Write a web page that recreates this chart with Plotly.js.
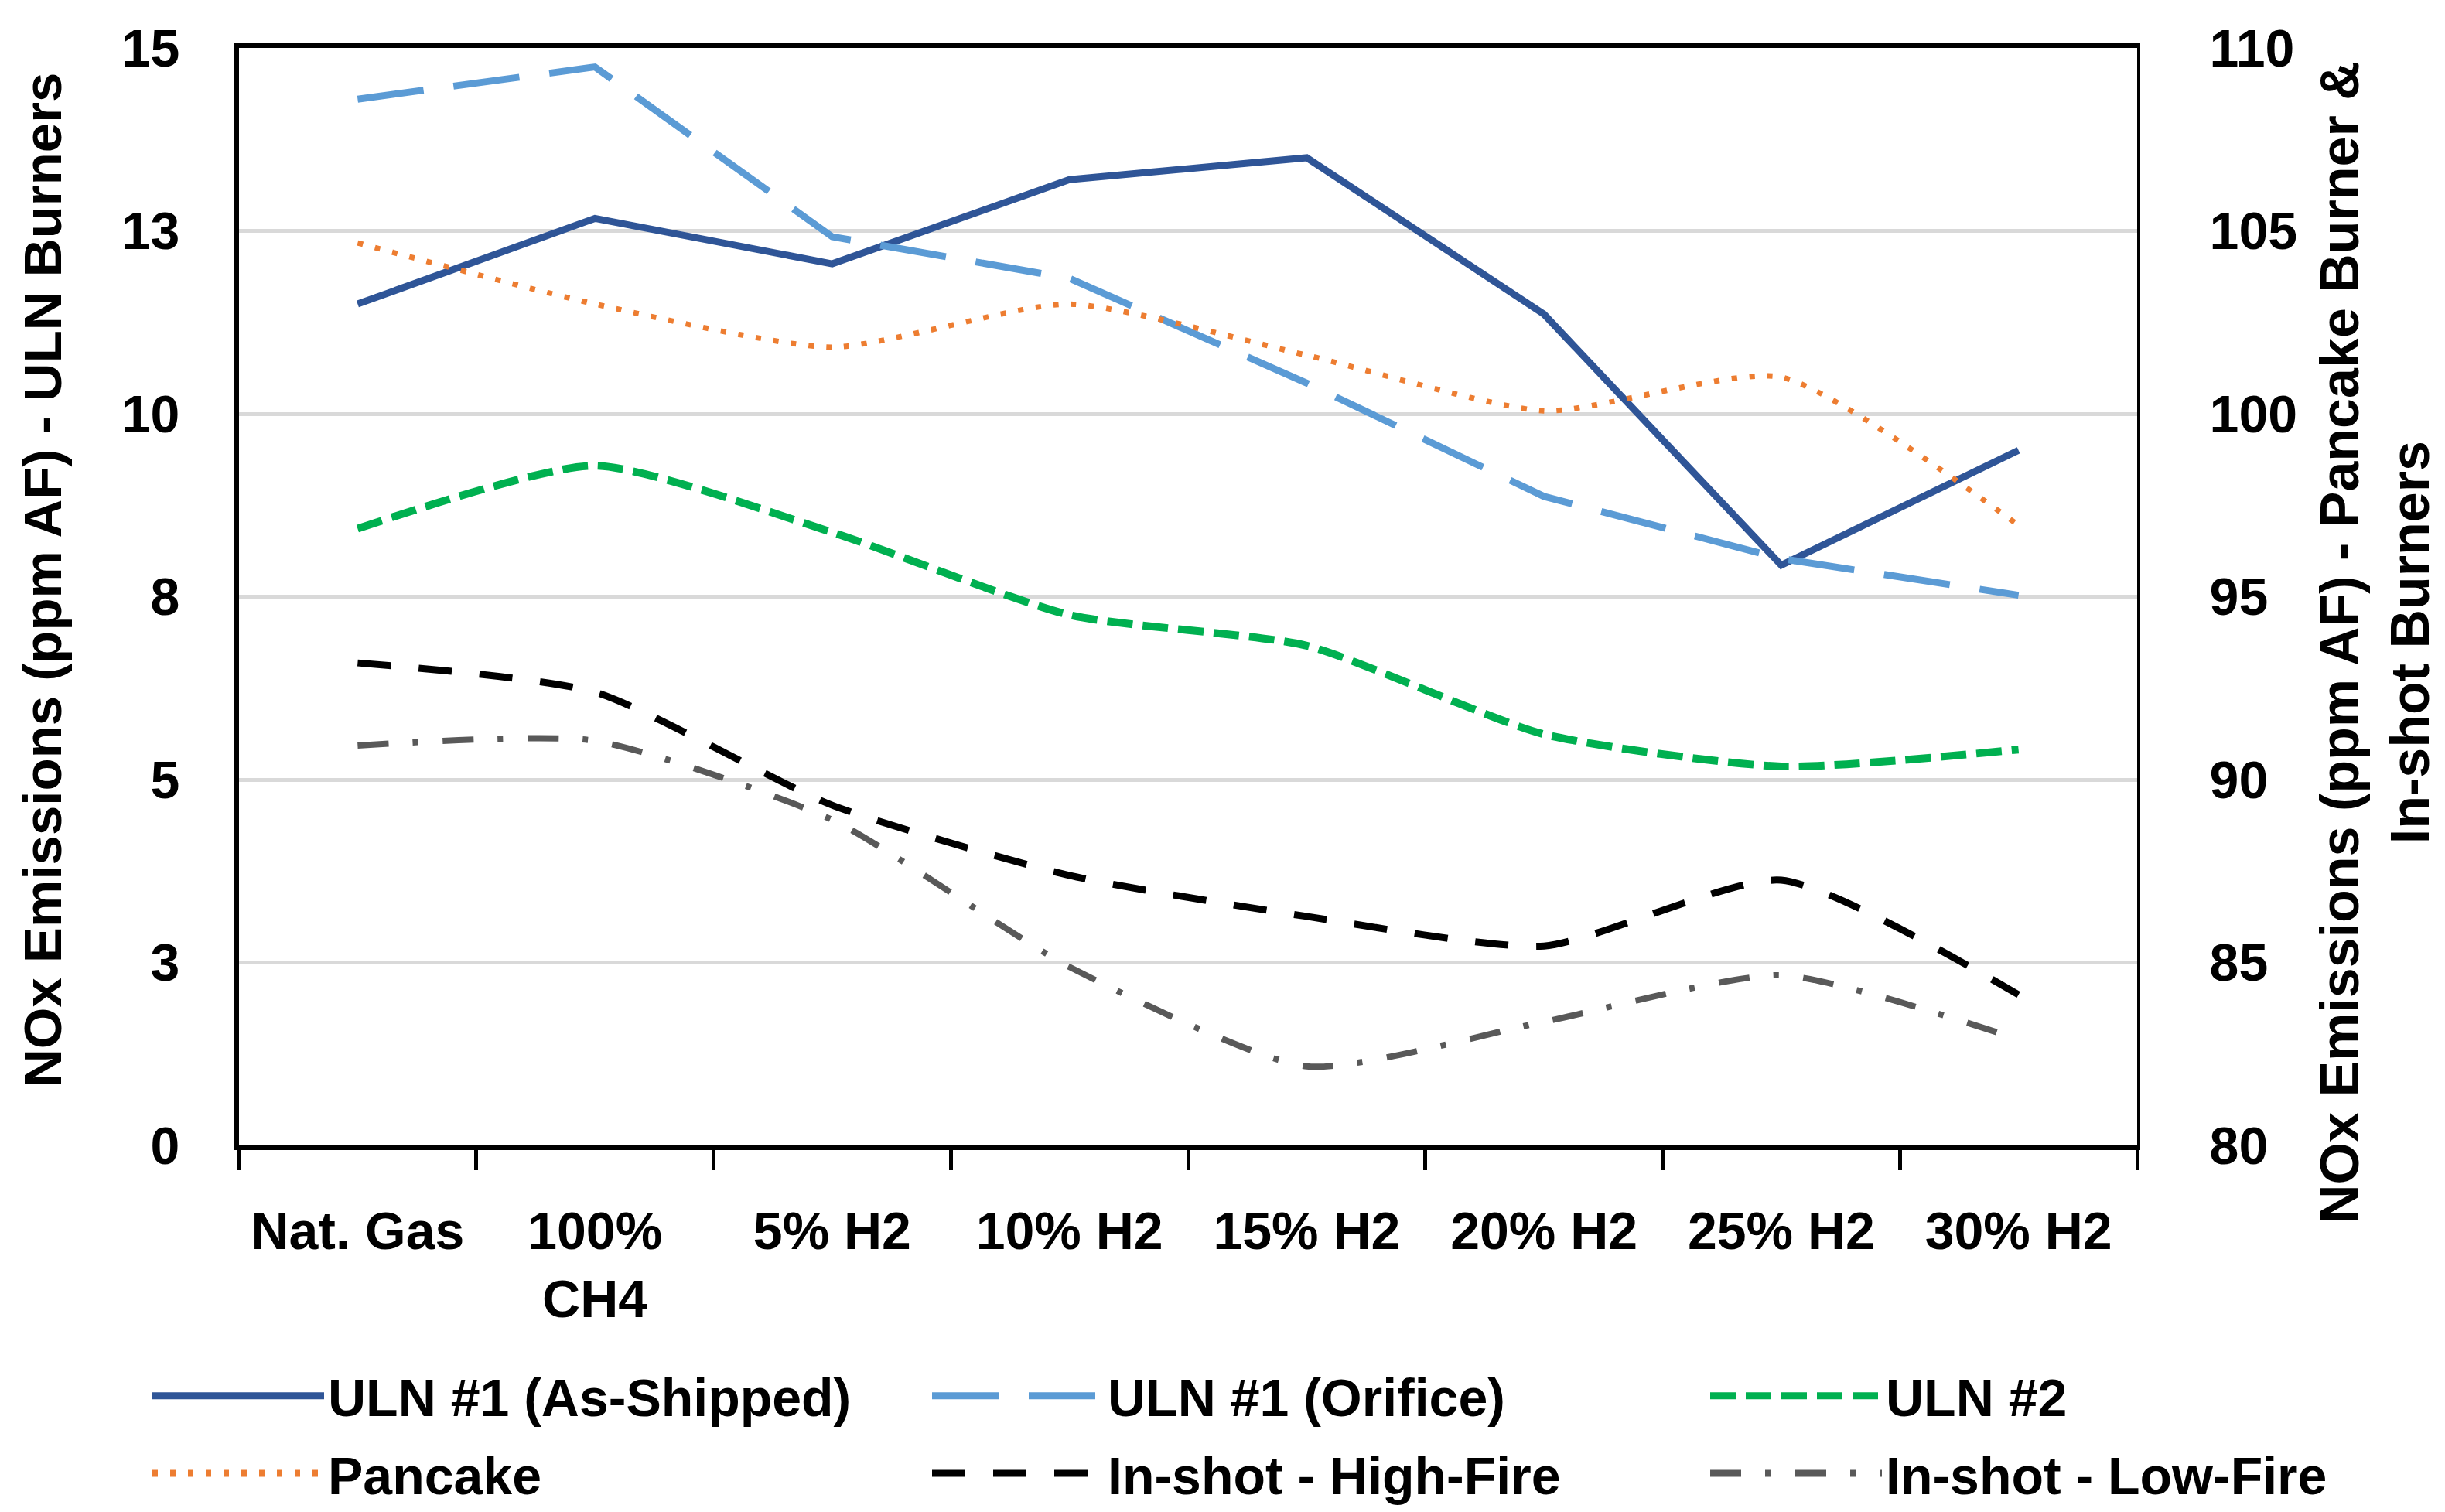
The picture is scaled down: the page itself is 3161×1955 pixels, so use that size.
<!DOCTYPE html>
<html>
<head>
<meta charset="utf-8">
<script src="https://cdn.plot.ly/plotly-3.0.1.min.js"></script>
<style>
html, body { margin: 0; padding: 0; background: #ffffff; }
#chart { width: 3161px; height: 1955px; }
.legendlines path { stroke-width: 9px !important; }
</style>
</head>
<body>
<div id="chart"></div>
<script>
// ---- data ----
var categories = ["Nat. Gas", "100%<br>CH4", "5% H2", "10% H2", "15% H2", "20% H2", "25% H2", "30% H2"];

// left axis (ULN burners)
var uln1Shipped = [11.5, 12.67, 12.05, 13.2, 13.5, 11.36, 7.93, 9.5];
var uln1Orifice = [14.3, 14.74, 12.42, 11.85, 10.42, 8.87, 8.02, 7.52];
var uln2 = [8.43, 9.29, 8.38, 7.25, 6.83, 5.62, 5.18, 5.41];

// right axis (Pancake & In-shot burners)
var pancake = [104.67, 103.0, 101.82, 103.0, 101.6, 100.08, 101.0, 96.95];
var inshotHigh = [93.19, 92.39, 89.3, 87.38, 86.26, 85.45, 87.25, 84.12];
var inshotLow = [90.93, 91.06, 88.9, 84.88, 82.16, 83.38, 84.65, 82.9];

var leftTickVals = [0, 2.5, 5, 7.5, 10, 12.5, 15];
var leftTickText = ["0", "3", "5", "8", "10", "13", "15"];
var rightTickVals = [80, 85, 90, 95, 100, 105, 110];
var rightTickText = ["80", "85", "90", "95", "100", "105", "110"];

var seriesNames = ["ULN #1 (As-Shipped)", "ULN #1 (Orifice)", "ULN #2", "Pancake", "In-shot - High-Fire", "In-shot - Low-Fire"];
var leftTitle = "NOx Emissions (ppm AF) - ULN Burners";
var rightTitle = "NOx Emissions (ppm AF) - Pancake Burner &<br>In-shot Burners";

// ---- chart ----
var FONT = "Liberation Sans, Arial, sans-serif";
function f(size) { return { family: FONT, size: size, color: "#000000", weight: 700 }; }

var traces = [
  { x: categories, y: uln1Shipped, name: seriesNames[0], type: "scatter", mode: "lines", yaxis: "y",
    legend: "legend", legendgroup: "g1",
    line: { color: "#2F5597", width: 9, dash: "solid", shape: "linear" } },
  { x: categories, y: uln1Orifice, name: seriesNames[1], type: "scatter", mode: "lines", yaxis: "y",
    legend: "legend2", legendgroup: "g2",
    line: { color: "#5B9BD5", width: 9, dash: "86px,39px", shape: "linear" } },
  { x: categories, y: uln2, name: seriesNames[2], type: "scatter", mode: "lines", yaxis: "y",
    legend: "legend3", legendgroup: "g3",
    line: { color: "#00B050", width: 10, dash: "33px,13px", shape: "spline", smoothing: 0.6 } },
  { x: categories, y: pancake, name: seriesNames[3], type: "scatter", mode: "lines", yaxis: "y2",
    legend: "legend", legendgroup: "g4",
    line: { color: "#ED7D31", width: 7, dash: "7px,16px", shape: "spline", smoothing: 0.6 } },
  { x: categories, y: inshotHigh, name: seriesNames[4], type: "scatter", mode: "lines", yaxis: "y2",
    legend: "legend2", legendgroup: "g5",
    line: { color: "#000000", width: 9, dash: "43px,36px", shape: "spline", smoothing: 0.6 } },
  { x: categories, y: inshotLow, name: seriesNames[5], type: "scatter", mode: "lines", yaxis: "y2",
    legend: "legend3", legendgroup: "g6",
    line: { color: "#595959", width: 8, dash: "40px,31px,7px,32px", shape: "spline", smoothing: 0.6 } }
];

function legendAt(xpx) {
  return {
    orientation: "v",
    xref: "container",
    yref: "container",
    x: xpx / 3161,
    xanchor: "left",
    y: 1 - 1754 / 1955,
    yanchor: "top",
    itemwidth: 222,
    traceorder: "grouped",
    tracegroupgap: 9,
    bgcolor: "rgba(0,0,0,0)",
    borderwidth: 0,
    font: f(68)
  };
}

var layout = {
  width: 3161,
  height: 1955,
  paper_bgcolor: "#ffffff",
  plot_bgcolor: "#ffffff",
  margin: { l: 309, r: 398, t: 62, b: 474, autoexpand: false },
  font: f(68),
  showlegend: true,
  xaxis: {
    type: "category",
    range: [-0.5, 7.5],
    tickson: "boundaries",
    ticks: "outside",
    ticklen: 26,
    tickwidth: 5,
    tickcolor: "#000000",
    showline: true,
    linewidth: 6,
    linecolor: "#000000",
    mirror: true,
    showgrid: false,
    zeroline: false,
    ticklabelstandoff: 46,
    tickfont: f(68),
    automargin: false
  },
  yaxis: {
    range: [0, 15],
    tickmode: "array",
    tickvals: leftTickVals,
    ticktext: leftTickText,
    ticks: "",
    showline: true,
    linewidth: 6,
    linecolor: "#000000",
    showgrid: true,
    gridcolor: "#D9D9D9",
    gridwidth: 5,
    zeroline: false,
    ticklabelstandoff: 57,
    tickfont: f(68),
    automargin: false
  },
  yaxis2: {
    overlaying: "y",
    side: "right",
    range: [80, 110],
    tickmode: "array",
    tickvals: rightTickVals,
    ticktext: rightTickText,
    ticks: "",
    showline: true,
    linewidth: 4,
    linecolor: "#000000",
    showgrid: false,
    zeroline: false,
    ticklabelstandoff: 76,
    tickfont: f(68),
    automargin: false
  },
  annotations: [
    { text: leftTitle, textangle: -90, xref: "paper", yref: "paper",
      x: (55 - 309) / 2454, y: (1481 - 750) / 1419, xanchor: "center", yanchor: "middle",
      showarrow: false, font: f(69), align: "center" },
    { text: rightTitle, textangle: -90, xref: "paper", yref: "paper",
      x: (3070 - 309) / 2454, y: (1481 - 831) / 1419, xanchor: "center", yanchor: "middle",
      showarrow: false, font: f(70), align: "center" }
  ],
  legend: legendAt(192),
  legend2: legendAt(1200),
  legend3: legendAt(2206)
};

Plotly.newPlot("chart", traces, layout, { displayModeBar: false, responsive: false, staticPlot: true });
</script>
</body>
</html>
